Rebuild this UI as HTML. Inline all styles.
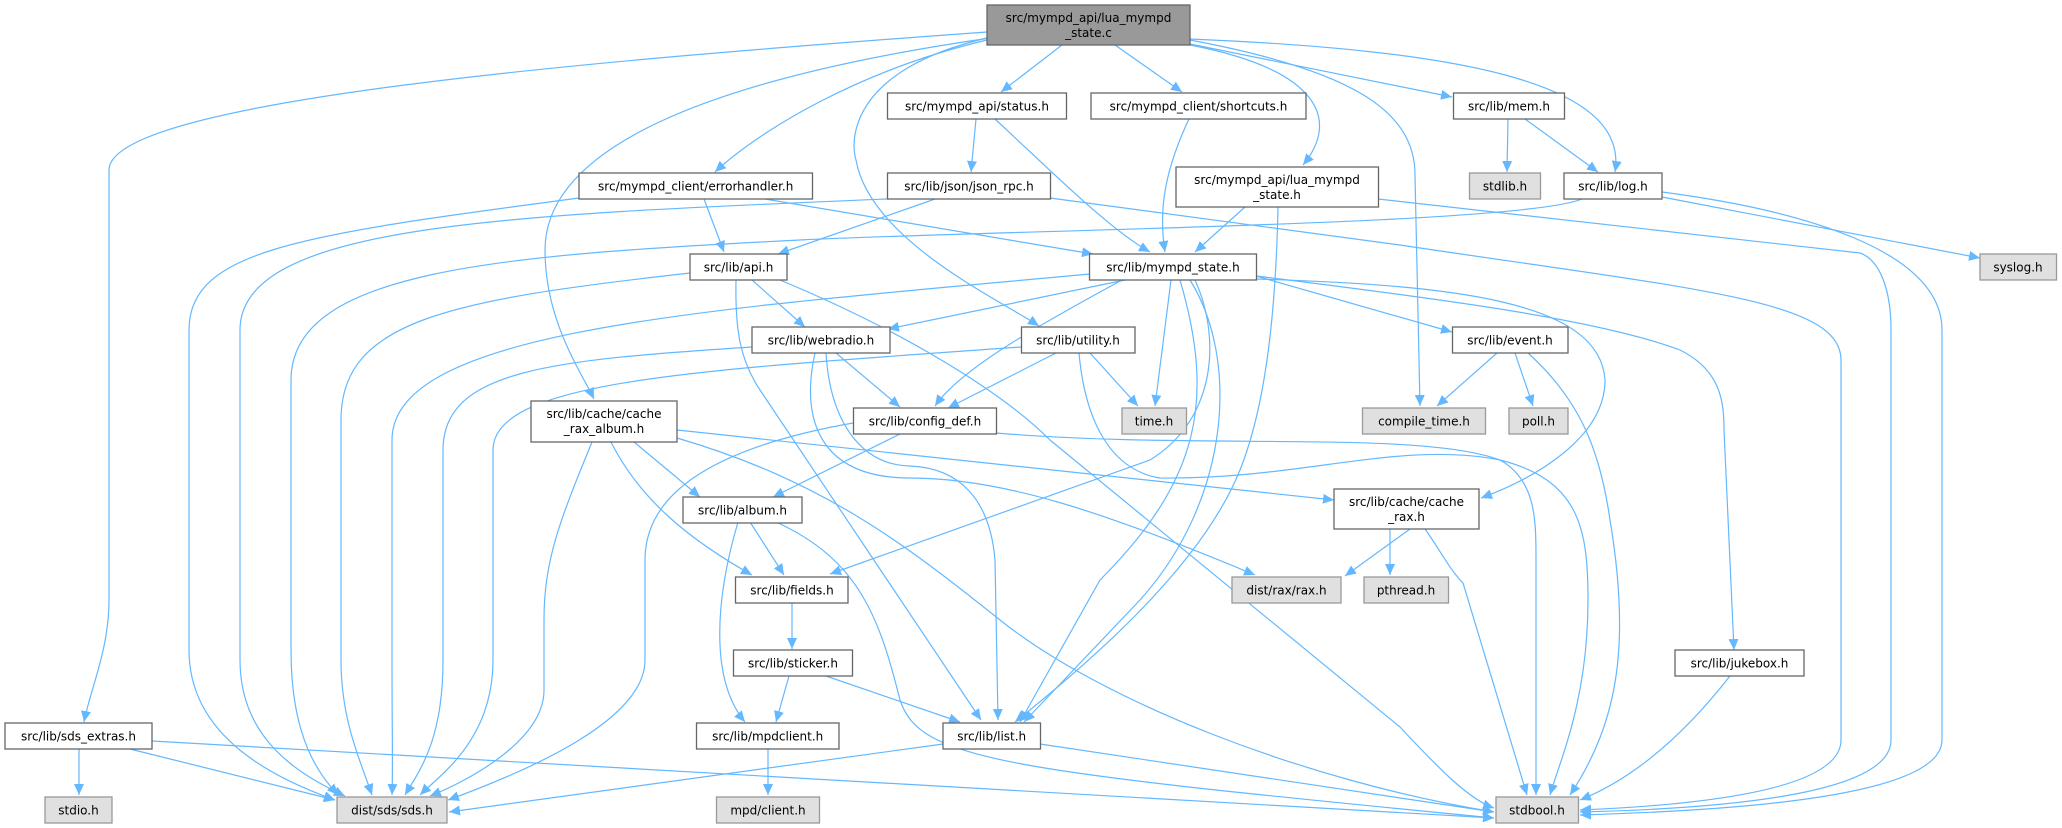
<!DOCTYPE html>
<html><head><meta charset="utf-8"><style>
html,body{margin:0;padding:0;background:#fff;}
svg{display:block;}
text{font-family:"DejaVu Sans","Liberation Sans",sans-serif;font-size:12px;fill:#000;}
.e{fill:none;stroke:#63b8ff;stroke-width:1.2;marker-end:url(#a);}
.n{fill:#fff;stroke:#666;stroke-width:1.3;}
.g{fill:#e0e0e0;stroke:#999;stroke-width:1.3;}
</style></head><body>
<svg width="2062" height="828" viewBox="0 0 2062 828" xmlns="http://www.w3.org/2000/svg">
<defs><marker id="a" markerUnits="userSpaceOnUse" markerWidth="12" markerHeight="10" refX="11" refY="5" orient="auto"><path d="M0,0 L11,5 L0,10 z" fill="#63b8ff"/></marker></defs>
<g>
<path class="e" d="M987,32 C600,60 109,100 109,170 L109,600 C109,650 90,690 84,722"/>
<path class="e" d="M987,40 C860,70 760,130 715,172"/>
<path class="e" d="M990,38 C700,80 545,150 545,250 C545,320 580,370 594,399"/>
<path class="e" d="M987,38 C850,70 850,140 856,160 C870,240 1000,300 1039,326"/>
<path class="e" d="M1062,45 L1001,92"/>
<path class="e" d="M1115,45 L1182,92"/>
<path class="e" d="M1190,45 C1320,70 1340,120 1303,165"/>
<path class="e" d="M1190,44 L1452,97"/>
<path class="e" d="M1190,39 C1450,50 1630,80 1615,172"/>
<path class="e" d="M1190,40 C1350,70 1415,110 1415,175 L1420,406"/>
<path class="e" d="M976,119 L971,172"/>
<path class="e" d="M995,119 C1050,170 1110,230 1150,252"/>
<path class="e" d="M1189,119 C1160,180 1160,220 1165,252"/>
<path class="e" d="M704,199 L724,252"/>
<path class="e" d="M765,199 L1093,254"/>
<path class="e" d="M935,199 L778,254"/>
<path class="e" d="M1050,198 L1400,245 C1700,290 1841,300 1841,360 L1841,740 C1841,790 1700,805 1580,810"/>
<path class="e" d="M1378,199 L1860,253 C1880,260 1891,290 1891,330 L1891,740 C1891,790 1750,808 1580,812"/>
<path class="e" d="M1662,192 C1800,210 1942,250 1942,330 L1942,740 C1942,795 1750,810 1580,815"/>
<path class="e" d="M1662,197 L1980,258"/>
<path class="e" d="M1245,207 L1195,252"/>
<path class="e" d="M1278,207 C1276,300 1268,400 1240,470 C1200,570 1080,670 1015,722"/>
<path class="e" d="M1508,119 L1507,172"/>
<path class="e" d="M1525,119 L1598,172"/>
<path class="e" d="M1582,199 C1520,225 1000,230 800,240 C500,255 291,270 291,380 L291,650 C291,740 320,775 338,795"/>
<path class="e" d="M579,198 C300,235 189,250 189,330 L189,650 C189,740 280,780 335,800"/>
<path class="e" d="M887,199 C500,215 240,225 240,330 L240,660 C240,740 300,775 345,796"/>
<path class="e" d="M690,273 C450,300 341,320 341,420 L341,660 C341,720 360,760 372,795"/>
<path class="e" d="M752,280 L805,327"/>
<path class="e" d="M736,280 C735,330 740,360 760,390 L981,720"/>
<path class="e" d="M780,280 C900,330 1000,390 1050,440 L1400,727 C1440,770 1470,800 1494,808"/>
<path class="e" d="M1090,274 C700,310 392,330 392,440 L392,660 C392,730 393,770 392,795"/>
<path class="e" d="M1125,280 L888,329"/>
<path class="e" d="M1122,280 C1030,330 960,370 935,406"/>
<path class="e" d="M1171,280 L1155,406"/>
<path class="e" d="M1195,280 C1222,340 1215,420 1150,460 L830,574"/>
<path class="e" d="M1180,280 C1215,400 1200,480 1100,580 L1020,722"/>
<path class="e" d="M1190,280 C1240,360 1230,500 1140,600 L1024,722"/>
<path class="e" d="M1256,276 L1452,332"/>
<path class="e" d="M1256,279 C1450,285 1600,300 1605,380 C1605,440 1530,480 1481,498"/>
<path class="e" d="M1256,276 C1450,300 1600,320 1680,350 C1720,370 1724,400 1724,430 L1734,650"/>
<path class="e" d="M752,347 C550,360 443,370 443,450 L443,660 C443,740 420,770 405,795"/>
<path class="e" d="M836,353 L900,407"/>
<path class="e" d="M815,353 C800,420 820,478 910,478 C1000,478 1100,510 1255,575"/>
<path class="e" d="M826,353 C830,420 860,465 910,466 C960,468 990,500 995,560 L998,720"/>
<path class="e" d="M1021,347 C700,370 493,380 493,450 L493,660 C493,740 440,775 420,795"/>
<path class="e" d="M1056,353 L948,408"/>
<path class="e" d="M1090,353 L1138,406"/>
<path class="e" d="M1079,353 C1085,420 1110,470 1160,478 C1300,480 1400,440 1500,460 C1580,480 1588,530 1588,600 C1588,700 1560,760 1550,795"/>
<path class="e" d="M996,433 C1200,450 1420,430 1500,460 C1536,480 1536,520 1536,560 L1536,795"/>
<path class="e" d="M853,423 C700,450 645,500 645,560 L645,660 C645,720 530,770 448,800"/>
<path class="e" d="M900,434 L773,497"/>
<path class="e" d="M592,442 C560,520 544,560 544,620 L544,690 C544,740 470,780 430,796"/>
<path class="e" d="M611,442 C640,500 690,540 752,575"/>
<path class="e" d="M634,442 L700,497"/>
<path class="e" d="M677,430 L1334,500"/>
<path class="e" d="M677,438 C820,480 900,540 1000,620 C1100,700 1300,780 1494,812"/>
<path class="e" d="M750,522 L784,575"/>
<path class="e" d="M738,522 C715,600 710,680 745,722"/>
<path class="e" d="M776,522 C860,560 880,620 900,700 C920,760 1000,770 1494,818"/>
<path class="e" d="M792,603 L792,649"/>
<path class="e" d="M789,676 L776,722"/>
<path class="e" d="M826,676 L960,722"/>
<path class="e" d="M768,749 L768,795"/>
<path class="e" d="M943,744 L449,812"/>
<path class="e" d="M1040,744 L1494,812"/>
<path class="e" d="M79,749 L79,795"/>
<path class="e" d="M130,749 L335,800"/>
<path class="e" d="M152,741 L1494,818"/>
<path class="e" d="M1730,676 C1680,740 1630,780 1580,800"/>
<path class="e" d="M1425,529 C1440,550 1450,570 1463,583 L1527,795"/>
<path class="e" d="M1410,529 L1345,576"/>
<path class="e" d="M1390,529 L1390,575"/>
<path class="e" d="M1497,353 L1437,406"/>
<path class="e" d="M1515,353 L1533,406"/>
<path class="e" d="M1528,353 C1580,400 1600,450 1610,520 C1630,640 1620,720 1570,795"/>
</g>
<g>
<rect x="987" y="5" width="203" height="40" fill="#999" stroke="#666" stroke-width="1.3"/>
<text x="1088.5" y="22" text-anchor="middle">src/mympd_api/lua_mympd</text>
<text x="1088.5" y="37" text-anchor="middle">_state.c</text>

<rect class="n" x="887.5" y="93" width="179" height="26"/><text x="977" y="110.5" text-anchor="middle">src/mympd_api/status.h</text>
<rect class="n" x="1091" y="93" width="215" height="26"/><text x="1198.5" y="110.5" text-anchor="middle">src/mympd_client/shortcuts.h</text>
<rect class="n" x="1453.5" y="93" width="111" height="26"/><text x="1509" y="110.5" text-anchor="middle">src/lib/mem.h</text>
<rect class="n" x="579" y="173" width="233.5" height="26"/><text x="695.7" y="190.5" text-anchor="middle">src/mympd_client/errorhandler.h</text>
<rect class="n" x="887.5" y="173" width="163" height="26"/><text x="969" y="190.5" text-anchor="middle">src/lib/json/json_rpc.h</text>
<rect class="n" x="1176" y="167" width="202.5" height="40"/><text x="1277" y="184" text-anchor="middle">src/mympd_api/lua_mympd</text><text x="1277" y="199" text-anchor="middle">_state.h</text>
<rect class="g" x="1469.5" y="173" width="71" height="26"/><text x="1505" y="190.5" text-anchor="middle">stdlib.h</text>
<rect class="n" x="1564" y="173" width="98" height="26"/><text x="1613" y="190.5" text-anchor="middle">src/lib/log.h</text>
<rect class="n" x="690" y="254" width="97" height="26"/><text x="738.5" y="271.5" text-anchor="middle">src/lib/api.h</text>
<rect class="n" x="1089.5" y="254" width="167" height="26"/><text x="1173" y="271.5" text-anchor="middle">src/lib/mympd_state.h</text>
<rect class="g" x="1980" y="254" width="76.5" height="26"/><text x="2018" y="271.5" text-anchor="middle">syslog.h</text>
<rect class="n" x="752" y="327" width="138" height="26"/><text x="821" y="344.5" text-anchor="middle">src/lib/webradio.h</text>
<rect class="n" x="1021.5" y="327" width="113.5" height="26"/><text x="1078" y="344.5" text-anchor="middle">src/lib/utility.h</text>
<rect class="n" x="1452.5" y="327" width="115.5" height="26"/><text x="1510" y="344.5" text-anchor="middle">src/lib/event.h</text>
<rect class="n" x="531" y="401" width="146" height="41"/><text x="604" y="418" text-anchor="middle">src/lib/cache/cache</text><text x="604" y="433" text-anchor="middle">_rax_album.h</text>
<rect class="n" x="853.5" y="408" width="143" height="26"/><text x="925" y="425.5" text-anchor="middle">src/lib/config_def.h</text>
<rect class="g" x="1122" y="408" width="64.5" height="26"/><text x="1154" y="425.5" text-anchor="middle">time.h</text>
<rect class="g" x="1362.5" y="408" width="123" height="26"/><text x="1424" y="425.5" text-anchor="middle">compile_time.h</text>
<rect class="g" x="1509" y="408" width="59" height="26"/><text x="1538.5" y="425.5" text-anchor="middle">poll.h</text>
<rect class="n" x="683" y="497" width="119" height="26"/><text x="742.5" y="514.5" text-anchor="middle">src/lib/album.h</text>
<rect class="n" x="1334" y="489" width="145" height="40"/><text x="1406.5" y="506" text-anchor="middle">src/lib/cache/cache</text><text x="1406.5" y="521" text-anchor="middle">_rax.h</text>
<rect class="n" x="735.5" y="577" width="112.5" height="26"/><text x="792" y="594.5" text-anchor="middle">src/lib/fields.h</text>
<rect class="g" x="1232" y="577" width="109" height="26"/><text x="1286.5" y="594.5" text-anchor="middle">dist/rax/rax.h</text>
<rect class="g" x="1364" y="577" width="84.5" height="26"/><text x="1406" y="594.5" text-anchor="middle">pthread.h</text>
<rect class="n" x="733.5" y="650" width="119" height="26"/><text x="793" y="667.5" text-anchor="middle">src/lib/sticker.h</text>
<rect class="n" x="1675" y="650" width="129" height="26"/><text x="1739.5" y="667.5" text-anchor="middle">src/lib/jukebox.h</text>
<rect class="n" x="5" y="723" width="147" height="26"/><text x="78.5" y="740.5" text-anchor="middle">src/lib/sds_extras.h</text>
<rect class="n" x="696.5" y="723" width="142.5" height="26"/><text x="767.7" y="740.5" text-anchor="middle">src/lib/mpdclient.h</text>
<rect class="n" x="943" y="723" width="97.5" height="26"/><text x="991.7" y="740.5" text-anchor="middle">src/lib/list.h</text>
<rect class="g" x="45" y="797" width="67" height="26"/><text x="78.5" y="814.5" text-anchor="middle">stdio.h</text>
<rect class="g" x="337" y="797" width="110" height="26"/><text x="392" y="814.5" text-anchor="middle">dist/sds/sds.h</text>
<rect class="g" x="716.5" y="797" width="103" height="26"/><text x="768" y="814.5" text-anchor="middle">mpd/client.h</text>
<rect class="g" x="1496" y="797" width="82.5" height="26"/><text x="1537" y="814.5" text-anchor="middle">stdbool.h</text>
</g>
</svg>
</body></html>
